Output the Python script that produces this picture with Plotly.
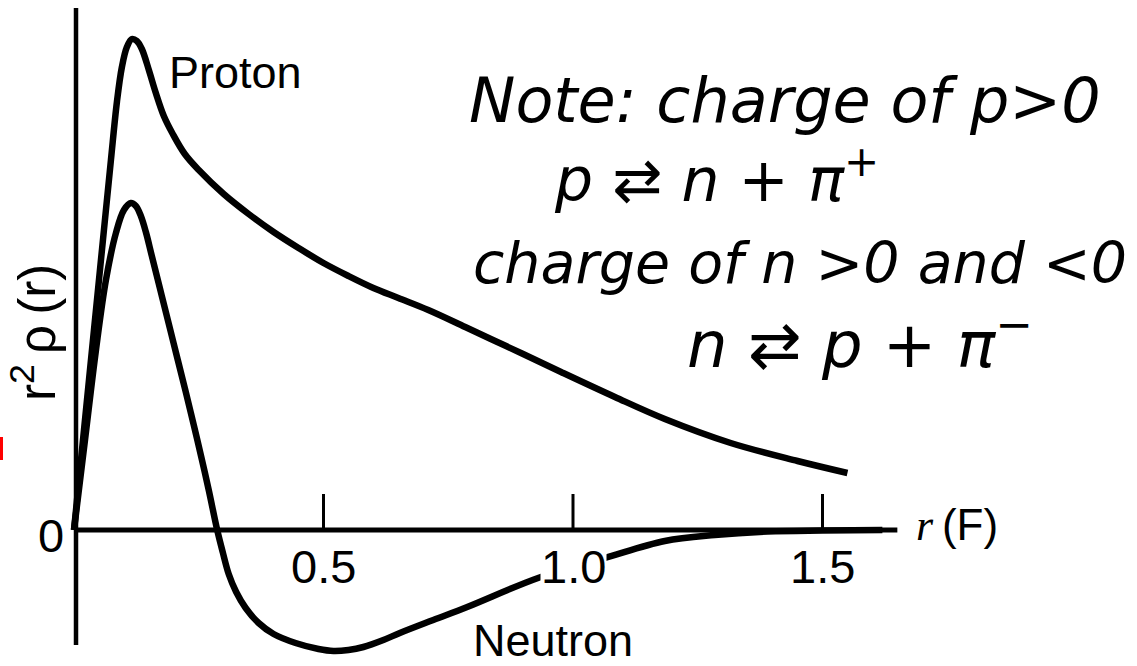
import plotly.graph_objects as go

# Radial charge distributions r^2 rho(r) for the proton and the neutron (arbitrary units)
proton_r = [0.0, 0.02, 0.04, 0.06, 0.074, 0.086, 0.096, 0.106, 0.116, 0.126, 0.136, 0.15,
            0.164, 0.18, 0.198, 0.222, 0.25, 0.3, 0.35, 0.4, 0.45, 0.5, 0.55, 0.6, 0.65, 0.71,
            0.784, 0.844, 0.9, 0.976, 1.084, 1.184, 1.316, 1.45, 1.55]
proton_q = [0.0, 1.0, 2.0, 3.0, 3.7, 4.28, 4.63, 4.83, 4.91, 4.89, 4.81, 4.60,
            4.37, 4.14, 3.96, 3.76, 3.60, 3.36, 3.16, 2.98, 2.82, 2.67, 2.54, 2.42, 2.32, 2.20,
            2.03, 1.89, 1.76, 1.58, 1.33, 1.11, 0.87, 0.69, 0.57]

neutron_r = [0.0, 0.022, 0.044, 0.064, 0.084, 0.1, 0.114, 0.124, 0.134, 0.144, 0.156, 0.176,
             0.2, 0.224, 0.24, 0.256, 0.27, 0.287, 0.298, 0.31, 0.325, 0.344, 0.37, 0.4,
             0.444, 0.49, 0.52, 0.55, 0.58, 0.62, 0.653, 0.72, 0.788, 0.93, 1.064, 1.184,
             1.284, 1.39, 1.5, 1.62]
neutron_q = [0.0, 0.9, 1.8, 2.5, 2.97, 3.20, 3.27, 3.24, 3.14, 2.98, 2.74, 2.34,
             1.86, 1.38, 1.05, 0.71, 0.40, 0.0, -0.22, -0.44, -0.62, -0.78, -0.93, -1.04,
             -1.13, -1.19, -1.21, -1.20, -1.17, -1.10, -1.03, -0.90, -0.77, -0.48, -0.28, -0.11,
             -0.05, -0.015, -0.005, 0.0]

tick_vals = [0.5, 1.0, 1.5]
tick_text = ["0.5", "1.0", "1.5"]

INK = "black"
LABEL_FONT = "Liberation Sans, Arial, sans-serif"
HAND_FONT = "DejaVu Sans, sans-serif"

fig = go.Figure()
fig.add_trace(go.Scatter(x=proton_r, y=proton_q, mode="lines", name="Proton",
                         line=dict(color=INK, width=6.5, shape="spline", smoothing=1.0)))
fig.add_trace(go.Scatter(x=neutron_r, y=neutron_q, mode="lines", name="Neutron",
                         line=dict(color=INK, width=6.5, shape="spline", smoothing=1.0)))

shapes = [
    # r axis
    dict(type="line", x0=0, x1=1.65, y0=0, y1=0, line=dict(color=INK, width=5)),
    # vertical axis
    dict(type="line", x0=0.004, x1=0.004, y0=-1.15, y1=5.22, line=dict(color=INK, width=4.5)),
    # red edge mark
    dict(type="rect", xref="paper", yref="paper", x0=0, x1=3 / 1137, y0=1 - 460 / 666,
         y1=1 - 437 / 666, fillcolor="red", line=dict(width=0)),
]
for v in tick_vals:
    shapes.append(dict(type="line", x0=v, x1=v, y0=0, y1=0.36, line=dict(color=INK, width=3)))

annotations = []
for v, t in zip(tick_vals, tick_text):
    annotations.append(dict(x=v, y=-0.36, text=t, showarrow=False, bgcolor="white", borderpad=0,
                            font=dict(family=LABEL_FONT, size=47, color=INK)))
annotations += [
    dict(x=-0.046, y=-0.05, text="0", showarrow=False,
         font=dict(family=LABEL_FONT, size=47, color=INK)),
    dict(x=-0.08, y=1.97, text="r<sup>2</sup>\u2009ρ\u2009(r)", textangle=-90, showarrow=False,
         font=dict(family=LABEL_FONT, size=51, color=INK)),
    dict(x=0.324, y=4.58, text="Proton", showarrow=False,
         font=dict(family=LABEL_FONT, size=45, color=INK)),
    dict(x=0.96, y=-1.10, text="Neutron", showarrow=False,
         font=dict(family=LABEL_FONT, size=45, color=INK)),
    dict(x=1.77, y=0.05, text="<span style='font-family:Liberation Serif'><i>r</i></span>\u2009(F)",
         showarrow=False, font=dict(family=LABEL_FONT, size=44, color=INK)),
]

# handwritten note
note_lines = [
    ("<i>Note: charge of p&gt;0</i>", 785, 101, 62),
    ("<i>p ⇄ n + π<sup>+</sup></i>", 716, 176, 60),
    ("<i>charge of n &gt;0 and &lt;0</i>", 800, 263, 57),
    ("<i>n ⇄ p + π<sup>−</sup></i>", 860, 340, 64),
]
for text, px, py, size in note_lines:
    annotations.append(dict(xref="paper", yref="paper", x=px / 1137, y=1 - py / 666,
                            xanchor="center", yanchor="middle",
                            text=text, showarrow=False,
                            font=dict(family=HAND_FONT, size=size, color=INK)))

fig.update_layout(
    width=1137, height=666,
    margin=dict(l=0, r=0, t=0, b=0),
    paper_bgcolor="white", plot_bgcolor="white",
    showlegend=False,
    xaxis=dict(visible=False, range=[-74 / 499, (1137 - 74) / 499]),
    yaxis=dict(visible=False, range=[-1.36, 5.30]),
    shapes=shapes,
    annotations=annotations,
)

fig.write_html("out.html")
